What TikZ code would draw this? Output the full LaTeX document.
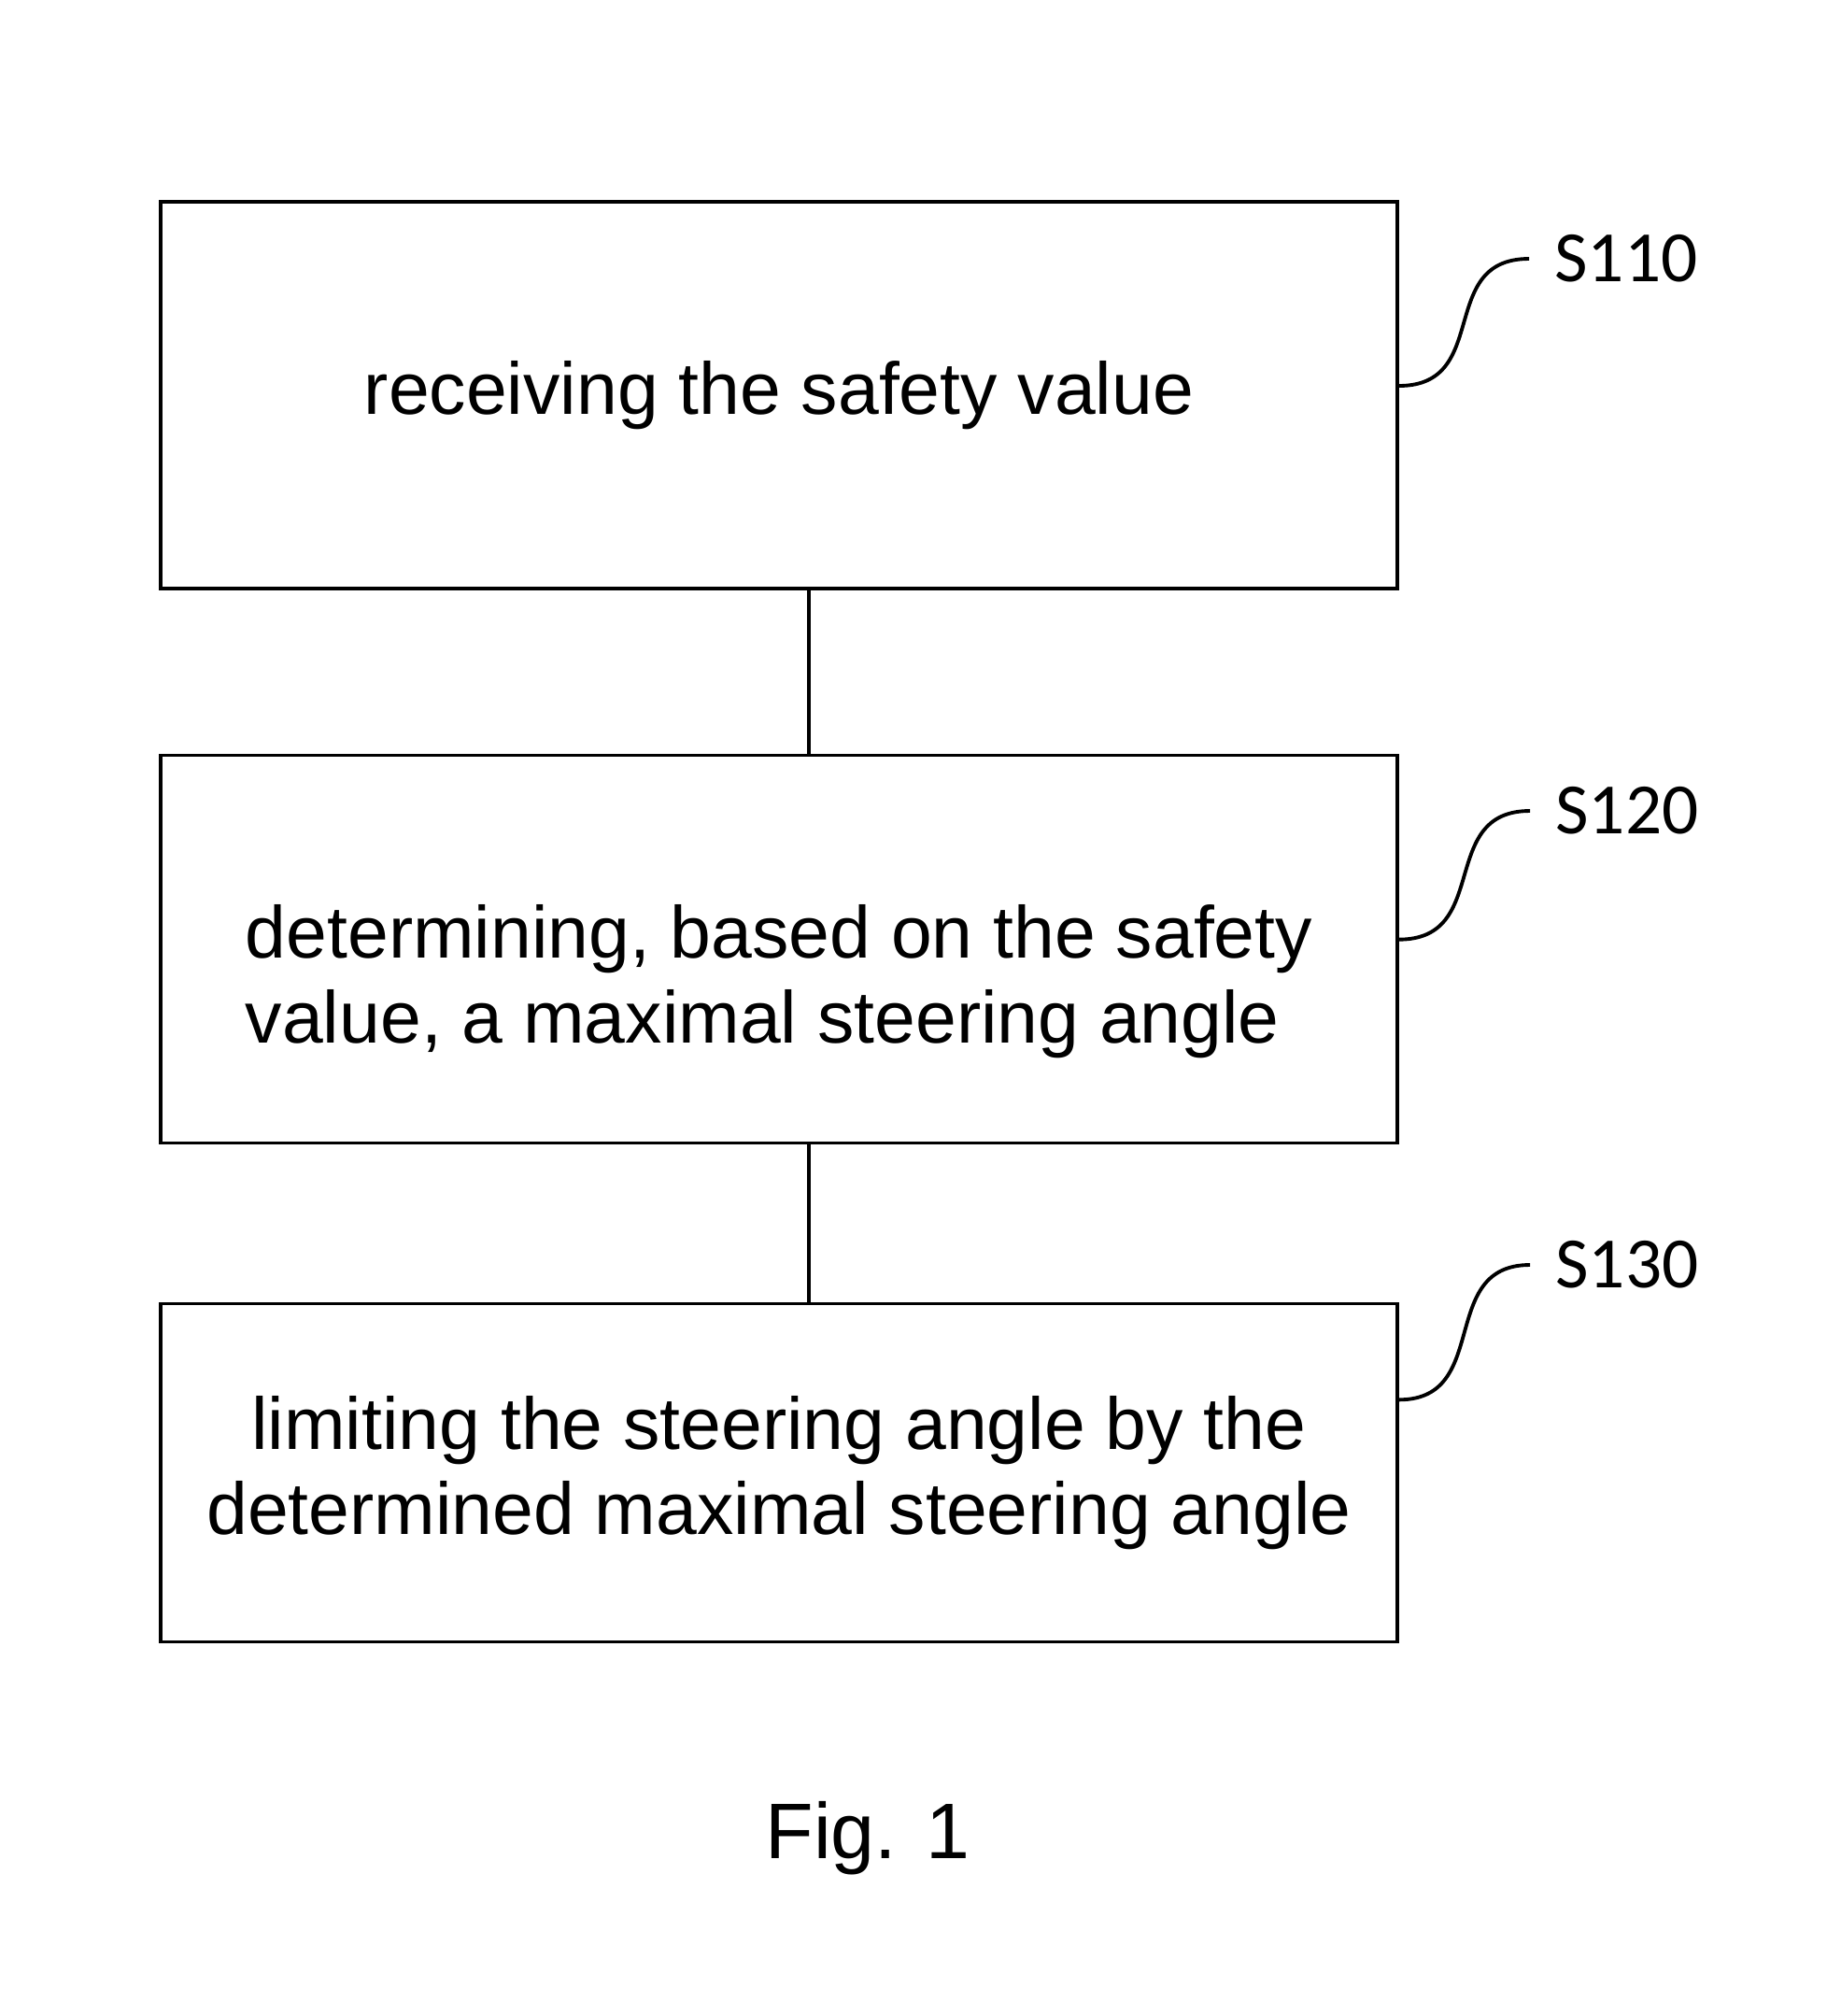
\documentclass[tikz,border=0pt]{standalone}
\usepackage{fontspec}
\setmainfont{Liberation Sans}
\newfontfamily\labelfont{Carlito}
\usetikzlibrary{positioning}

\begin{document}
\begin{tikzpicture}[box/.style={draw,line width=0.9pt,minimum width=13.24cm,inner sep=0pt,align=center,font=\fontsize{22.4}{25.8}\selectfont},steplabel/.style={font=\labelfont\fontsize{22}{24}\selectfont},leader/.style={line width=1.1pt}]
\useasboundingbox (0,0) rectangle (19.71,-21.58);
\node[box,minimum height=4.14cm] (a) at (8.34,-4.23) {receiving the safety value};
\node[box,minimum height=4.15cm,align=left,below=1.75cm of a] (b) {\rule{0pt}{36pt}determining, based on the safety\\value, a maximal steering angle};
\node[box,minimum height=3.62cm,below=1.69cm of b] (c) {limiting the steering angle by the\\determined maximal steering angle};
\foreach \x/\y in {a/b,b/c}{\draw[line width=0.9pt] ([xshift=3.2mm]\x.south)--([xshift=3.2mm]\y.north);}
% step numbers
\node[steplabel] (la) at (17.41,-2.77) {S110};
\node[steplabel] (lb) at (17.42,-8.68) {S120};
\node[steplabel] (lc) at (17.42,-13.54) {S130};
\draw[leader] ([yshift=1mm]a.east) .. controls +(1,0) and +(-1,0) .. ([xshift=-1.5mm]la.west);
\draw[leader] ([yshift=1mm]b.east) .. controls +(1,0) and +(-1,0) .. ([xshift=-1.5mm]lb.west);
\draw[leader] ([yshift=7.8mm]c.east) .. controls +(1,0) and +(-1,0) .. ([xshift=-1.5mm]lc.west);
\node[font=\fontsize{24}{28}\selectfont] (fig) at (9.29,-19.68) {Fig. 1};
\end{tikzpicture}
\end{document}
